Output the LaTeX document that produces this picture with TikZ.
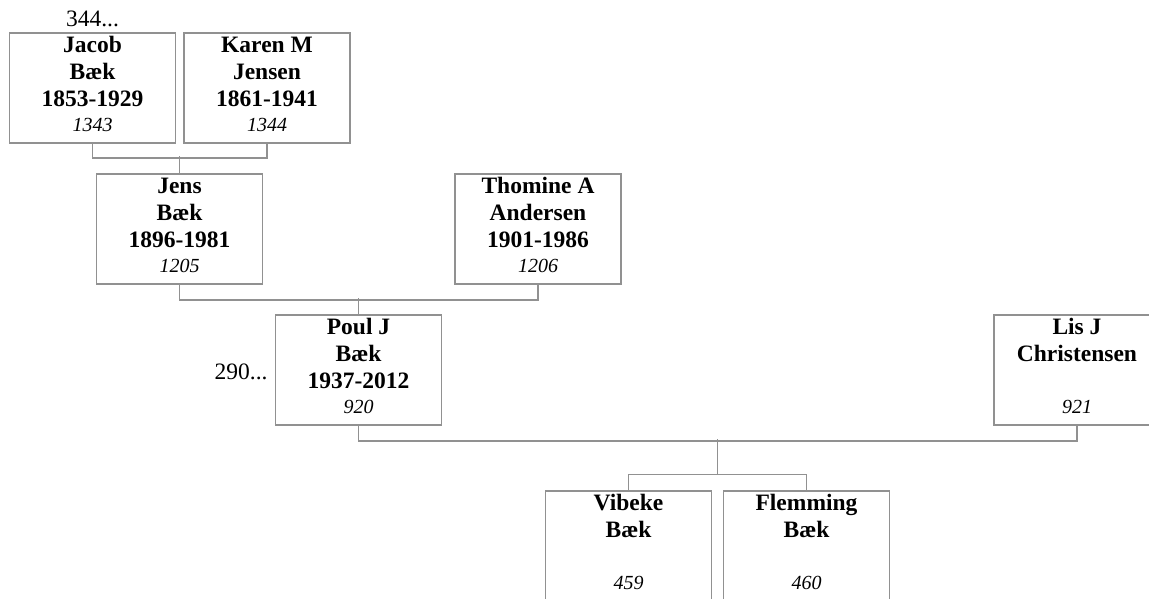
\documentclass[tikz,border=0pt]{standalone}
\usepackage{fontspec}
\setmainfont{Liberation Serif}
\usetikzlibrary{calc}
\definecolor{linegray}{RGB}{145,145,145}
\tikzset{
  pbox/.style={draw=linegray, line width=1.5pt, minimum width=166pt, minimum height=110pt, inner sep=0pt},
  conn/.style={draw=linegray, line width=1.5pt},
  nm/.style={anchor=base, inner sep=0pt, font=\fontsize{23.5}{27}\selectfont\bfseries},
  idn/.style={anchor=base, inner sep=0pt, font=\fontsize{20}{24}\selectfont\itshape},
  plaintxt/.style={inner sep=0pt, font=\fontsize{23.5}{27}\selectfont}
}
% #1 name, #2 position, #3 line1, #4 line2, #5 dates, #6 id
\newcommand\personbox[6]{%
  \node[pbox] (#1) at (#2) {};
  \node[nm] (#1-a) at ([yshift=-20pt]#1.north) {#3};
  \node[nm] (#1-b) at ([yshift=-47pt]#1.north) {#4};
  \node[nm] (#1-c) at ([yshift=-74pt]#1.north) {#5};
  \node[idn] (#1-d) at ([yshift=-99pt]#1.north) {#6};
}
\begin{document}
\begin{tikzpicture}[x=1pt,y=-1pt]
\clip (0,0) rectangle (1149,598);
\fill[white] (0,0) rectangle (1149,598);

\personbox{jacob}{92.5,88}{Jacob}{Bæk}{1853-1929}{1343}
\personbox{karen}{267,88}{Karen M}{Jensen}{1861-1941}{1344}
\personbox{jens}{179.5,229}{Jens}{Bæk}{1896-1981}{1205}
\personbox{thomine}{538,229}{Thomine A}{Andersen}{1901-1986}{1206}
\personbox{poul}{358.5,370}{Poul J}{Bæk}{1937-2012}{920}
\personbox{lis}{1077,370}{Lis J}{Christensen}{}{921}
\personbox{vibeke}{628.5,546}{Vibeke}{Bæk}{}{459}
\personbox{flemming}{806.5,546}{Flemming}{Bæk}{}{460}

\node[plaintxt, anchor=base] (more1) at ([yshift=5.5pt]jacob.north) {344...};
\node[plaintxt, anchor=base east] (more2) at ([xshift=-7pt,yshift=-65pt]poul.north west) {290...};

\draw[conn] (jacob.south) -- ++(0,14) -| (karen.south);
\draw[conn] (jens.north) -- ++(0,-17);
\draw[conn] (jens.south) -- ++(0,15) -| (thomine.south);
\draw[conn] (poul.north) -- ++(0,-16);
\draw[conn] (poul.south) -- ++(0,15) -| (lis.south);
\draw[conn] (vibeke.north) -- ++(0,-16) -| (flemming.north);
\coordinate (kids) at ($(vibeke.north)!0.5!(flemming.north)+(0,-16)$);
\draw[conn] (kids) -- ++(0,-35);
\end{tikzpicture}
\end{document}
